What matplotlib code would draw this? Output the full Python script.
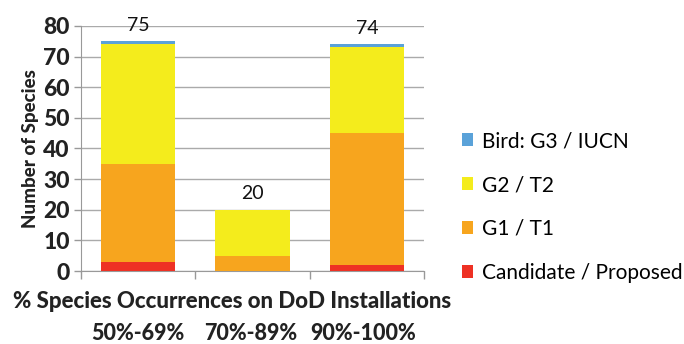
import matplotlib
matplotlib.use("Agg")
import matplotlib.pyplot as plt
import numpy as np

plt.rcParams['font.family'] = ['Lato', 'DejaVu Sans']

categories = ["50%-69%", "70%-89%", "90%-100%"]
candidate = [3, 0, 2]
g1_t1 = [32, 5, 43]
g2_t2 = [39, 15, 28]
bird_g3 = [1, 0, 1]
totals = [75, 20, 74]

series = [
    ("Candidate / Proposed", candidate, "#ee3124"),
    ("G1 / T1", g1_t1, "#f7a51e"),
    ("G2 / T2", g2_t2, "#f4ec1c"),
    ("Bird: G3 / IUCN", bird_g3, "#5aa2d9"),
]

HEAVY = "black"

fig = plt.figure(figsize=(6.84, 3.44), dpi=100)
ax = fig.add_axes([81 / 684, 1 - 271 / 344, (424 - 81) / 684, 245 / 344])

x = np.arange(len(categories))
bottom = np.zeros(len(categories))
handles = []
for name, vals, color in series:
    h = ax.bar(x, vals, bottom=bottom, width=0.65, color=color, label=name, zorder=3)
    handles.append(h)
    bottom += np.array(vals)

for xi, t in zip(x, totals):
    ax.text(xi, t + 2.5, str(t), ha="center", va="bottom", fontsize=14, color="#111111")

ax.set_xlim(-0.5, len(categories) - 0.5)
ax.set_ylim(0, 80)
ax.set_yticks(range(0, 81, 10))
ax.tick_params(axis="y", labelsize=16.5, length=5, color="#999999", width=1, pad=3)
for lbl in ax.get_yticklabels():
    lbl.set_fontweight(HEAVY)
    lbl.set_color("#222222")
ax.yaxis.grid(True, color="#aaaaaa", linewidth=1, zorder=0)

# category separators below the axis
ax.set_xticks(np.arange(-0.5, len(categories), 1.0))
ax.set_xticklabels([])
ax.tick_params(axis="x", length=6, color="#999999", width=1)

for side in ["top", "right"]:
    ax.spines[side].set_visible(False)
ax.spines["left"].set_color("#999999")
ax.spines["bottom"].set_color("#999999")

ax.set_ylabel("Number of Species", fontsize=13.5, fontweight=HEAVY, labelpad=3, color="#222222")

fig.text(232 / 684, 1 - 301 / 344, "% Species Occurrences on DoD Installations",
         ha="center", va="center", fontsize=16, fontweight=HEAVY, color="#222222")
label_x = [138, 251, 363]
for lx, c in zip(label_x, categories):
    fig.text(lx / 684, 1 - 333 / 344, c, ha="center", va="center",
             fontsize=15.5, fontweight=HEAVY, color="#222222")

leg = fig.legend(handles[::-1], [s[0] for s in series][::-1],
                 loc="center left", bbox_to_anchor=(462 / 684, 1 - 207 / 344),
                 frameon=False, fontsize=15, handlelength=0.55, handleheight=0.55,
                 handletextpad=0.4, labelspacing=1.15, borderpad=0, borderaxespad=0)

fig.savefig("out.png", dpi=100)
